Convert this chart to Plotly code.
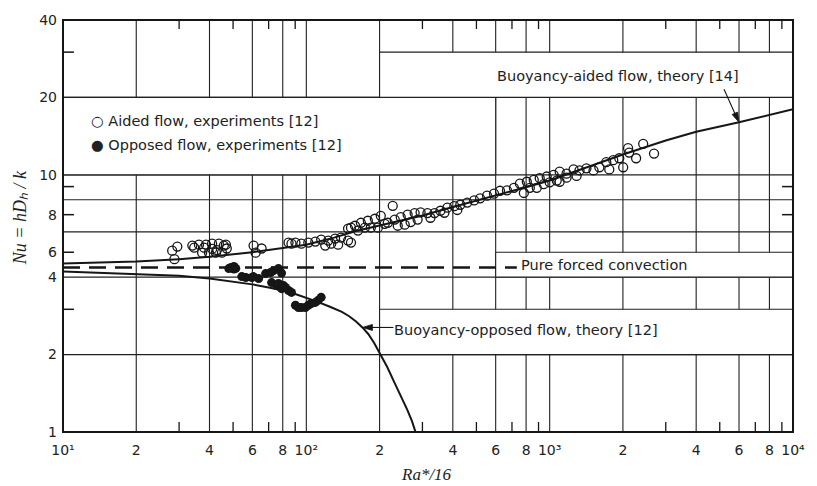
import math
import plotly.graph_objects as go

# ---------------- data ----------------
AIDED_THEORY_X = [10, 20, 30, 40, 60, 80, 100, 130, 160, 200, 300, 400, 600, 800,
                  1000, 1500, 2000, 3000, 4000, 6000, 8000, 10000]
AIDED_THEORY_NU = [4.52, 4.6, 4.7, 4.8, 5.0, 5.18, 5.35, 5.7, 6.05, 6.35, 6.95, 7.5, 8.3, 8.95,
                   9.5, 10.9, 12.0, 13.6, 14.7, 16.0, 17.1, 18.0]

OPPOSED_THEORY_X = [10, 20, 30, 40, 50, 60, 70, 80, 90, 100, 110, 125, 140, 150, 160, 170, 180,
                    190, 200, 215, 230, 245, 260, 272, 281]
OPPOSED_THEORY_NU = [4.21, 4.12, 4.05, 3.95, 3.85, 3.75, 3.65, 3.55, 3.44, 3.33, 3.22, 3.07, 2.93,
                     2.82, 2.69, 2.55, 2.4, 2.22, 2.03, 1.79, 1.56, 1.38, 1.22, 1.1, 1.0]

FORCED_X = [10, 733]
FORCED_NU = [4.36, 4.36]

AIDED_EXP_X = [28.1, 29.5, 28.7,
               34.0, 34.6, 36.2, 37.3, 38.0, 38.7, 39.8, 41.0, 41.0, 42.5, 42.9, 43.7, 45.0, 45.8, 46.7, 47.1,
               60.7, 61.9, 65.5,
               84.5, 86.9, 90.2, 95.4, 101.9, 108.9, 115.1, 119.6, 123.0, 126.5, 131.3, 135.1, 138.9, 148.4,
               152.6, 152.6,
               148.4, 158.5, 163.0, 167.6, 174.0, 179.0, 184.1, 191.3, 196.7, 202.3, 210.0, 216.1, 226.5,
               230.8, 237.5, 244.3, 253.7, 260.8, 268.3, 278.7, 286.6, 294.8, 314.6, 323.6, 336.3, 355.7,
               369.3, 379.9, 405.7, 417.3, 429.2, 458.4, 489.5, 517.8, 553.0, 590.6, 625.0, 667.6, 713.0,
               754.4, 783.3, 805.6, 828.6, 860.3, 884.9, 910.2, 945.0, 972.0, 1000, 1038, 1069, 1099, 1099,
               1173, 1173, 1254, 1290, 1326, 1416, 1514, 1600, 1709, 1758, 1825, 1932, 2005, 2100, 2122,
               2266, 2423, 2685]
AIDED_EXP_NU = [5.07, 5.26, 4.70,
                5.31, 5.21, 5.35, 4.98, 5.21, 5.35, 4.98, 5.40, 5.15, 4.98, 5.10, 5.40, 4.98, 5.31, 5.35, 5.17,
                5.31, 4.98, 5.17,
                5.45, 5.40, 5.45, 5.40, 5.45, 5.50, 5.60, 5.31, 5.55, 5.40, 5.65, 5.35, 5.70, 5.55,
                5.45, 6.23,
                6.18, 6.34, 6.07, 6.51, 6.23, 6.63, 6.23, 6.75, 6.23, 6.93, 6.45, 6.51, 7.58,
                6.70, 6.34, 6.85, 6.40, 7.00, 6.55, 7.10, 6.70, 7.15, 7.10, 6.81, 7.10, 7.25,
                7.12, 7.45, 7.55, 7.30, 7.65, 7.80, 7.95, 8.10, 8.30, 8.45, 8.67, 8.70, 8.90,
                9.25, 8.50, 9.40, 8.90, 9.55, 8.90, 9.70, 9.20, 9.85, 9.35, 10.0, 9.50, 10.3, 9.40,
                10.1, 9.75, 10.5, 9.90, 10.4, 10.6, 10.4, 10.7, 11.2, 10.5, 11.4, 11.6, 10.7, 12.7, 12.2,
                11.6, 13.2, 12.1]

OPPOSED_EXP_X = [48.0, 49.0, 50.4, 50.4, 51.3,
                 54.3, 56.4, 59.7, 60.7, 63.7,
                 68.0, 71.3, 73.3, 76.8, 79.1,
                 72.0, 75.4, 76.8, 79.1, 80.6, 82.1, 84.5, 86.9,
                 90.2, 92.8, 95.4, 99.1, 101.9, 104.8, 108.9, 111.9, 115.1]
OPPOSED_EXP_NU = [4.32, 4.36, 4.40, 4.30, 4.33,
                  4.02, 3.99, 3.99, 4.02, 3.95,
                  4.13, 4.17, 4.24, 4.32, 4.15,
                  3.81, 3.71, 3.78, 3.61, 3.71, 3.65, 3.55, 3.49,
                  3.11, 3.05, 3.05, 3.05, 3.11, 3.16, 3.19, 3.25, 3.34]

# arrow targets on the theory curves (taken from the curve arrays)
AIDED_ARROW_AT = 6000
OPPOSED_ARROW_AT = 170

# axis / graph-paper structure
X_RANGE = [10, 10000]
Y_RANGE = [1, 40]
GRID_X = [20, 40, 60, 80, 100, 200, 400, 600, 800, 1000, 2000, 4000, 6000, 8000]
GRID_Y = [2, 4, 6, 8, 10, 20]
MINOR_X = [30, 50, 70, 90, 300, 500, 700, 900, 3000, 5000, 7000, 9000]
MINOR_Y_LEFT = [3, 5, 7, 9, 30]
MINOR_Y_RIGHT = [7, 9]
X_TICKS = [10, 20, 40, 60, 80, 100, 200, 400, 600, 800, 1000, 2000, 4000, 6000, 8000, 10000]
X_TICKTEXT = ["10¹", "2", "4", "6", "8", "10²", "2", "4", "6", "8",
              "10³", "2", "4", "6", "8", "10⁴"]
Y_TICKS = [1, 2, 4, 5, 7, 10, 20, 40]
Y_TICKTEXT = ["1", "2", "4", "6", "8", "10", "20", "40"]
# label boxes pasted on the graph paper: (x0, x1, y0, y1)
LABEL_BOXES = [(10, 600, 10, 20), (200, 10000, 20, 30), (600, 10000, 4, 5), (200, 10000, 2, 3)]

# ---------------- figure ----------------
W, H = 817, 486
ML, MR, MT, MB = 63, 20, 20, 54
PW, PH = W - ML - MR, H - MT - MB
INK = "#161616"
SANS = "DejaVu Sans"
SERIF = "Liberation Serif"
FS = 14.5

fig = go.Figure()

fig.add_trace(go.Scatter(x=AIDED_THEORY_X, y=AIDED_THEORY_NU, mode="lines",
                         line=dict(color=INK, width=2), showlegend=False, hoverinfo="skip"))
fig.add_trace(go.Scatter(x=OPPOSED_THEORY_X, y=OPPOSED_THEORY_NU, mode="lines",
                         line=dict(color=INK, width=2), showlegend=False, hoverinfo="skip"))
fig.add_trace(go.Scatter(x=FORCED_X, y=FORCED_NU, mode="lines",
                         line=dict(color=INK, width=2.5, dash="17px,9px"), showlegend=False,
                         hoverinfo="skip"))
fig.add_trace(go.Scatter(x=AIDED_EXP_X, y=AIDED_EXP_NU, mode="markers",
                         marker=dict(symbol="circle-open", size=9, color=INK, line=dict(width=1.3)),
                         name="Aided flow, experiments [12]", showlegend=False))
fig.add_trace(go.Scatter(x=OPPOSED_EXP_X, y=OPPOSED_EXP_NU, mode="markers",
                         marker=dict(symbol="circle", size=9, color=INK),
                         name="Opposed flow, experiments [12]", showlegend=False))

shapes = []
for gx in GRID_X:
    shapes.append(dict(type="line", xref="x", yref="y", x0=gx, x1=gx, y0=Y_RANGE[0], y1=Y_RANGE[1],
                       line=dict(color="#202020", width=1.1), layer="below"))
for gy in GRID_Y:
    shapes.append(dict(type="line", xref="x", yref="y", x0=X_RANGE[0], x1=X_RANGE[1], y0=gy, y1=gy,
                       line=dict(color="#202020", width=1.1), layer="below"))
for (x0, x1, y0, y1) in LABEL_BOXES:
    shapes.append(dict(type="rect", xref="x", yref="y", x0=x0, x1=x1, y0=y0, y1=y1,
                       fillcolor="white", line=dict(color="#202020", width=1.1), layer="below"))
for mx in MINOR_X:
    shapes.append(dict(type="line", xref="x", yref="paper", x0=mx, x1=mx, y0=0, y1=10 / PH,
                       line=dict(color=INK, width=1.3)))
    shapes.append(dict(type="line", xref="x", yref="paper", x0=mx, x1=mx, y0=1, y1=1 - 9 / PH,
                       line=dict(color=INK, width=1.3)))
for my in MINOR_Y_LEFT:
    shapes.append(dict(type="line", xref="paper", yref="y", x0=0, x1=11 / PW, y0=my, y1=my,
                       line=dict(color=INK, width=1.5)))
for my in MINOR_Y_RIGHT:
    shapes.append(dict(type="line", xref="paper", yref="y", x0=1, x1=1 - 11 / PW, y0=my, y1=my,
                       line=dict(color=INK, width=1.5)))
shapes.append(dict(type="rect", xref="paper", yref="paper", x0=0, x1=1, y0=0, y1=1,
                   line=dict(color=INK, width=2)))

# leader arrows (pixel-sized, anchored on the theory curves)
a_nu = AIDED_THEORY_NU[AIDED_THEORY_X.index(AIDED_ARROW_AT)]
o_nu = OPPOSED_THEORY_NU[OPPOSED_THEORY_X.index(OPPOSED_ARROW_AT)]
for (ax_, ay_, tail, head) in [
        (AIDED_ARROW_AT, a_nu, "M-15,33 L-2,4", "M0,0 L-1.4,10.3 L-6.9,7.9 Z"),
        (OPPOSED_ARROW_AT, o_nu, "M31,0 L6,0", "M0,0 L10,3 L10,-3 Z")]:
    shapes.append(dict(type="path", xref="x", yref="y", xsizemode="pixel", ysizemode="pixel",
                       xanchor=ax_, yanchor=ay_, path=tail, line=dict(color=INK, width=1.1)))
    shapes.append(dict(type="path", xref="x", yref="y", xsizemode="pixel", ysizemode="pixel",
                       xanchor=ax_, yanchor=ay_, path=head, fillcolor=INK,
                       line=dict(color=INK, width=0.8)))


def px_x(p):
    return (p - ML) / PW


def px_y(p):
    return (H - MB - p) / PH


txt = dict(family=SANS, size=FS, color="#222")
annotations = [
    dict(xref="paper", yref="paper", x=px_x(89), y=px_y(121), xanchor="left", yanchor="middle",
         text="○ Aided flow, experiments [12]", showarrow=False, font=txt),
    dict(xref="paper", yref="paper", x=px_x(89), y=px_y(145), xanchor="left", yanchor="middle",
         text="● Opposed flow, experiments [12]", showarrow=False, font=txt),
    dict(xref="paper", yref="paper", x=px_x(745), y=px_y(76), xanchor="right", yanchor="middle",
         text="Buoyancy-aided flow, theory [14]", showarrow=False, font=txt),
    dict(xref="paper", yref="paper", x=px_x(521), y=px_y(265), xanchor="left",
         yanchor="middle", text="Pure forced convection", showarrow=False, font=txt),
    dict(xref="paper", yref="paper", x=px_x(394), y=px_y(330), xanchor="left", yanchor="middle",
         text="Buoyancy-opposed flow, theory [12]", showarrow=False, font=txt),
    dict(xref="paper", yref="paper", x=px_x(20), y=px_y(218), xanchor="center", yanchor="middle",
         textangle=-90, showarrow=False,
         text="Nu = hDₕ / k",
         font=dict(family=SERIF, size=18, color="#222", style="italic")),
    dict(xref="paper", yref="paper", x=px_x(428), y=px_y(474), xanchor="center", yanchor="middle",
         showarrow=False, text="Ra*/16",
         font=dict(family=SERIF, size=17, color="#222", style="italic")),
]

fig.update_layout(
    width=W, height=H,
    margin=dict(l=ML, r=MR, t=MT, b=MB, pad=0),
    paper_bgcolor="white", plot_bgcolor="white",
    showlegend=False,
    shapes=shapes, annotations=annotations,
    xaxis=dict(type="log", range=[math.log10(X_RANGE[0]), math.log10(X_RANGE[1])],
               showgrid=False, zeroline=False, showline=False, ticks="",
               tickmode="array", tickvals=X_TICKS, ticktext=X_TICKTEXT,
               tickfont=dict(family=SANS, size=14, color="#222"), ticklabelstandoff=8),
    yaxis=dict(type="log", range=[0, math.log10(Y_RANGE[1])],
               showgrid=False, zeroline=False, showline=False, ticks="",
               tickmode="array", tickvals=Y_TICKS, ticktext=Y_TICKTEXT,
               tickfont=dict(family=SANS, size=14, color="#222"), ticklabelstandoff=5),
)

fig.write_html("out.html")
